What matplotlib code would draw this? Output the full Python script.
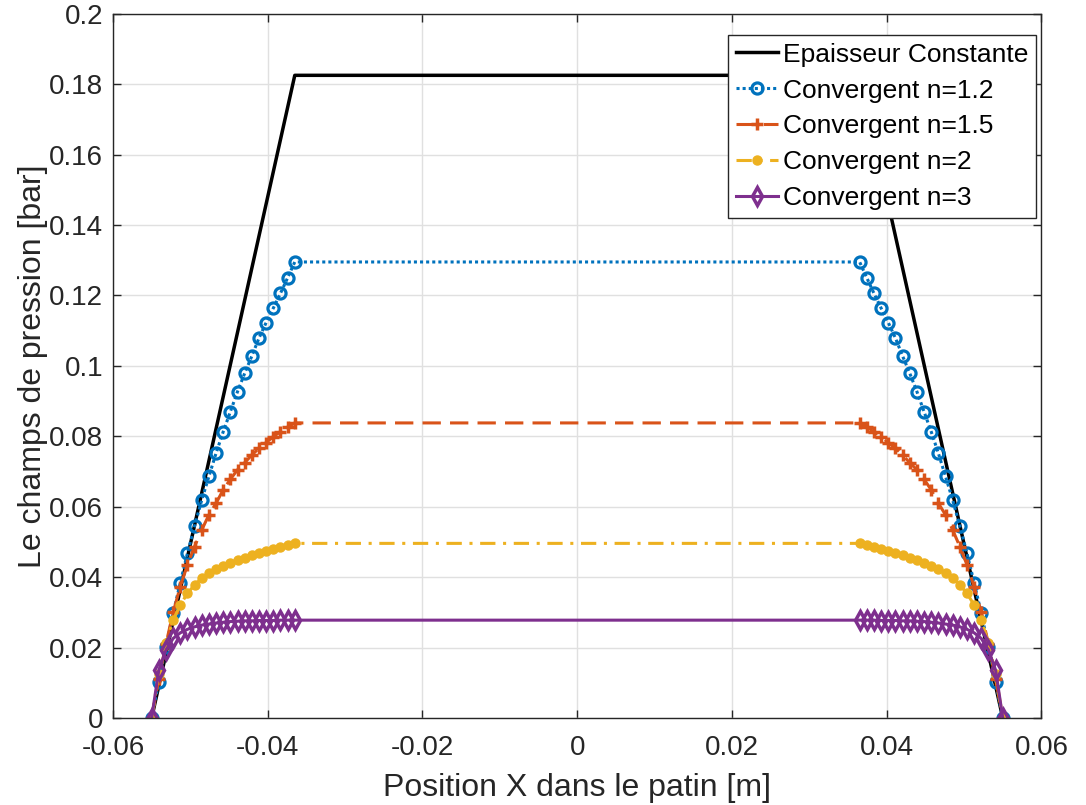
import numpy as np
import matplotlib
matplotlib.use("Agg")
import matplotlib.pyplot as plt

plt.rcParams['font.family'] = ['Liberation Sans', 'DejaVu Sans']
plt.rcParams['axes.unicode_minus'] = False

# abscisses des points de la rampe gauche (la rampe droite est symetrique)
x_rampe = np.linspace(-0.055, -0.0365, 21)

# epaisseur constante : trapeze
x_const = [-0.055, -0.0365, 0.0365, 0.055]
p_const = [0.0, 0.1825, 0.1825, 0.0]

p_n12 = [0, 0.0103, 0.0203, 0.0297, 0.0384, 0.0468, 0.0545, 0.0619, 0.0686, 0.0752,
         0.0813, 0.0870, 0.0927, 0.0979, 0.1028, 0.1079, 0.1123, 0.1164, 0.1206,
         0.1250, 0.1295]
p_n15 = [0, 0.0110, 0.0210, 0.0300, 0.0373, 0.0435, 0.0487, 0.0534, 0.0577, 0.0610,
         0.0648, 0.0678, 0.0705, 0.0725, 0.0747, 0.0766, 0.0782, 0.0799, 0.0813,
         0.0826, 0.0838]
p_n2 = [0, 0.0125, 0.0213, 0.0278, 0.0321, 0.0354, 0.0378, 0.0397, 0.0411, 0.0422,
        0.0431, 0.0440, 0.0448, 0.0455, 0.0462, 0.0468, 0.0474, 0.0480, 0.0485,
        0.0490, 0.0496]
p_n3 = [0, 0.0136, 0.0193, 0.0226, 0.0242, 0.0252, 0.0259, 0.0264, 0.0267, 0.0270,
        0.0272, 0.0274, 0.0275, 0.0276, 0.0276, 0.0277, 0.0277, 0.0277, 0.0278,
        0.0278, 0.0278]

labels = ['Epaisseur Constante', 'Convergent n=1.2', 'Convergent n=1.5',
          'Convergent n=2', 'Convergent n=3']


def symetrique(p):
    # profil complet : rampe gauche + rampe droite miroir
    x = np.concatenate([x_rampe, -x_rampe[::-1]])
    y = np.concatenate([p, p[::-1]])
    return x, y


fig = plt.figure(figsize=(10.86, 8.05), dpi=100, facecolor='white')
ax = fig.add_axes([0.104, 0.108, 0.855, 0.875])

ax.plot(x_const, p_const, color='black', lw=2.5, label=labels[0])

styles = [
    (p_n12, '#0072BD', (0, (1, 1)), 'o', dict(markersize=8, mfc='none', mew=2.3)),
    (p_n15, '#D95319', (0, (6, 3)), '+', dict(markersize=8, mew=2.5)),
    (p_n2, '#EDB120', (0, (5, 2.5, 1, 2.5)), 'o', dict(markersize=6.5, mfc='#EDB120', mew=1)),
    (p_n3, '#7E2F8E', '-', 'd', dict(markersize=9, mfc='none', mew=2.5)),
]
for (p, c, ls, mk, kw), lab in zip(styles, labels[1:]):
    x, y = symetrique(np.array(p))
    ax.plot(x, y, color=c, ls=ls, lw=2.2, marker=mk, label=lab, **kw)

ax.set_xlim(-0.06, 0.06)
ax.set_ylim(0, 0.2)
ax.set_xticks(np.arange(-0.06, 0.061, 0.02))
ax.set_xticklabels(['-0.06', '-0.04', '-0.02', '0', '0.02', '0.04', '0.06'])
ax.set_yticks(np.arange(0, 0.201, 0.02))
ax.set_yticklabels(['0', '0.02', '0.04', '0.06', '0.08', '0.1', '0.12', '0.14',
                    '0.16', '0.18', '0.2'])
ax.tick_params(direction='in', top=True, right=True, labelsize=20,
               colors='0.15', length=6, width=1)
ax.tick_params(axis='x', pad=12)
ax.tick_params(axis='y', pad=7)
for s in ax.spines.values():
    s.set_color('0.15')
    s.set_linewidth(1)
ax.grid(True, color='0.88', lw=1)
ax.set_axisbelow(True)

ax.set_xlabel('Position X dans le patin [m]', fontsize=23, color='0.15', labelpad=9)
ax.set_ylabel('Le champs de pression [bar]', fontsize=23, color='0.15', labelpad=1)

leg = ax.legend(loc='upper right', bbox_to_anchor=(0.9946, 0.970), fontsize=19,
                fancybox=False, framealpha=1, edgecolor='0.15', borderpad=0.3,
                labelspacing=0.45, handlelength=1.6, handletextpad=0.2,
                borderaxespad=0)
leg.get_frame().set_linewidth(1)

fig.savefig('out.png', dpi=100)
